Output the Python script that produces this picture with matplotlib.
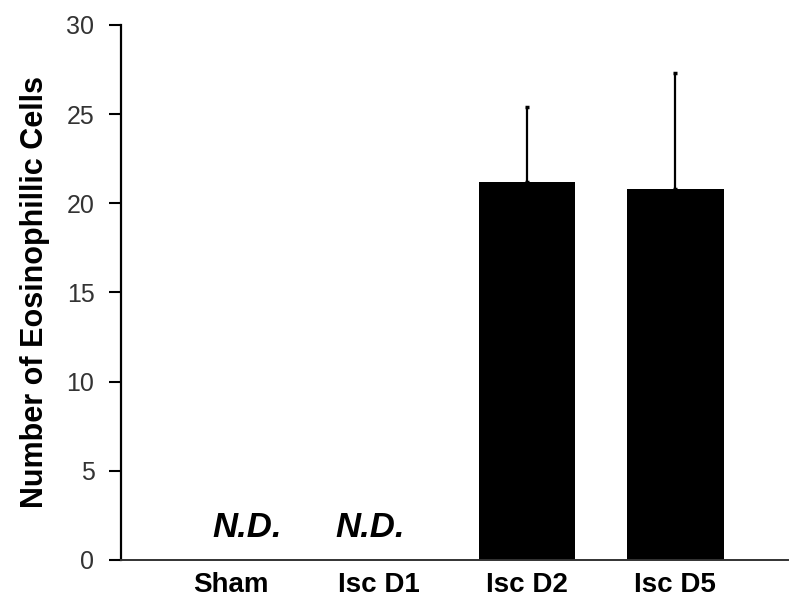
import numpy as np
import matplotlib.pyplot as plt

plt.rcParams['font.family'] = ['Liberation Sans', 'DejaVu Sans']

groups = ["Sham", "Isc D1", "Isc D2", "Isc D5"]
means = [0, 0, 21.2, 20.8]
errs = [0, 0, 4.2, 6.5]
not_detected = [True, True, False, False]
nd_offsets = [0.11, -0.06, 0, 0]  # where the N.D. text sits relative to the group

fig = plt.figure(figsize=(8, 6.09), dpi=100)
ax = fig.add_axes([0.151, 0.0805, 0.834, 0.8785])

x = np.arange(len(groups))
shown = [i for i in x if not not_detected[i]]
ax.bar([x[i] for i in shown], [means[i] for i in shown], width=0.65, color='black')
ax.errorbar([x[i] for i in shown], [means[i] for i in shown],
            yerr=[[0] * len(shown), [errs[i] for i in shown]],
            fmt='none', ecolor='black', elinewidth=1.6, capsize=1.5, capthick=2.5)

# N.D. marks for groups that had no cells
for i in x:
    if not_detected[i]:
        ax.text(i + nd_offsets[i], 1.3, "N.D.", ha='center', va='baseline',
                fontsize=25, fontweight='bold', fontstyle='italic')

ax.set_xlim(-0.74, 3.76)
ax.set_ylim(0, 30)
ax.set_yticks(range(0, 31, 5))
ax.set_xticks(x)
ax.set_xticklabels(groups, fontsize=20, fontweight='bold')
ax.tick_params(axis='x', length=0, pad=9)
ax.tick_params(axis='y', length=9, width=1.5, labelsize=18, labelcolor='#333333', pad=10)
ax.set_ylabel("Number of Eosinophillic Cells", fontsize=22, fontweight='bold', labelpad=12)

for s in ['top', 'right']:
    ax.spines[s].set_visible(False)
ax.spines['left'].set_linewidth(1.6)
ax.spines['bottom'].set_linewidth(1.4)
ax.spines['bottom'].set_color('#333333')

plt.savefig("out.png", dpi=100)
